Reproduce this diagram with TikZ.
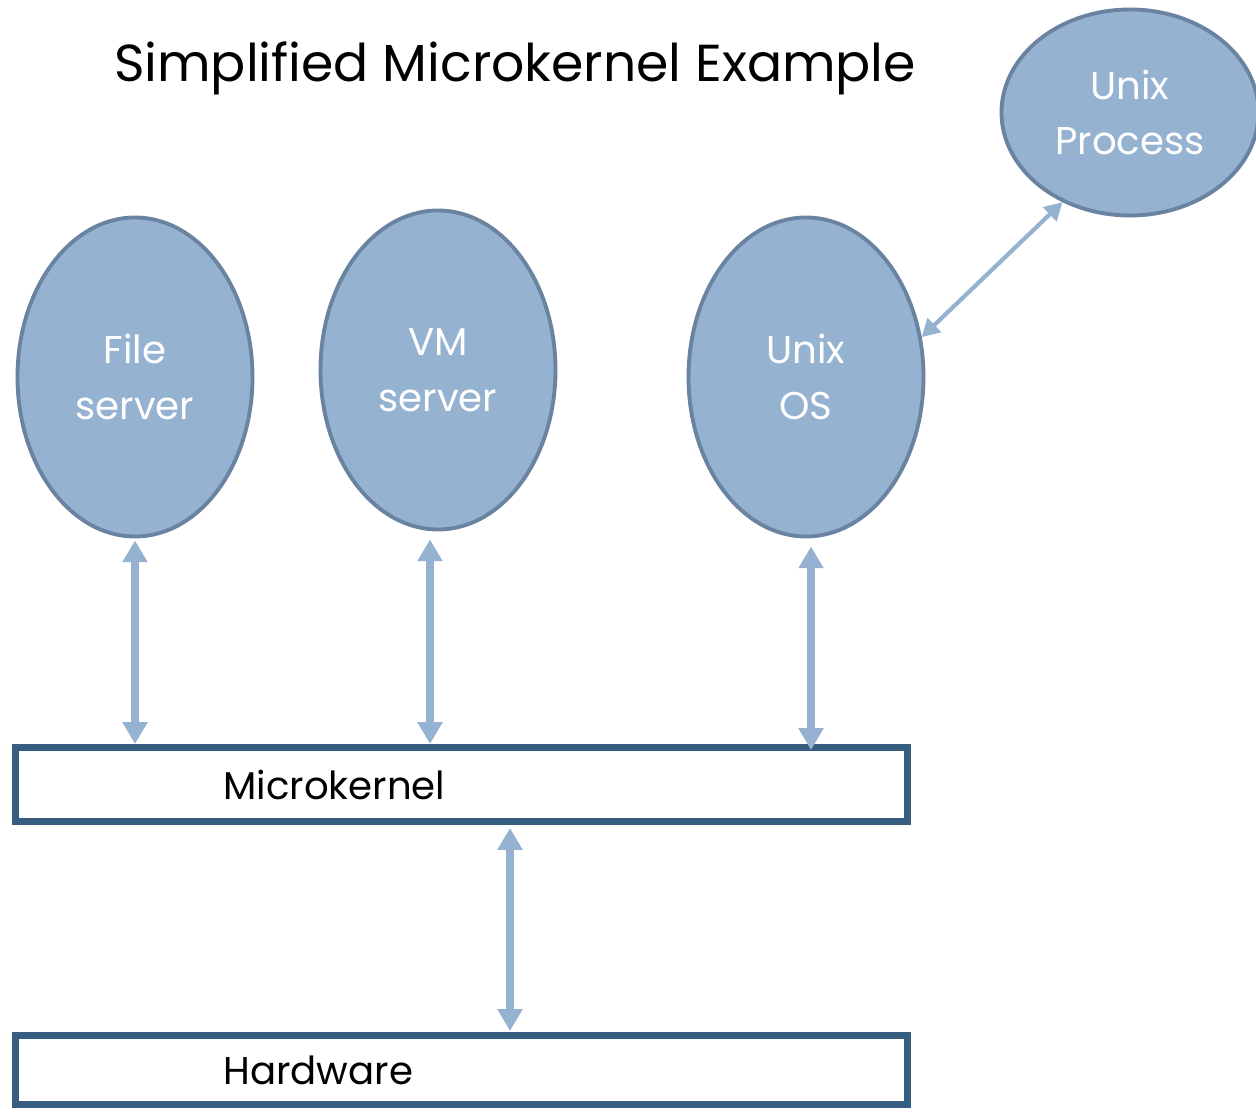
\documentclass[tikz,border=0pt]{standalone}
\usepackage{fontspec}
\setmainfont{Poppins}
\usepackage{tikz}
\usetikzlibrary{shapes.geometric,arrows.meta}
\definecolor{procfill}{HTML}{95B3D1}
\definecolor{procedge}{HTML}{6A83A0}
\definecolor{boxedge}{HTML}{375E80}

\begin{document}
\begin{tikzpicture}[
  proc/.style={ellipse,draw=procedge,fill=procfill,line width=1.1pt,inner sep=0pt,
    text=white,align=center,font=\fontsize{11}{15.9}\selectfont},
  layer/.style={draw=boxedge,line width=2pt,minimum width=8.92cm,inner ysep=0pt,
    inner xsep=2.08cm,text width=4.76cm,align=left,font=\fontsize{11}{15.9}\selectfont},
  link/.style={draw=procfill,line width=2.3pt,{Triangle[width=6.8pt,length=6.2pt]}-{Triangle[width=6.8pt,length=6.2pt]}},
  thinlink/.style={draw=procfill,line width=1.2pt,{Triangle[width=5.4pt,length=5pt]}-{Triangle[width=5.4pt,length=5pt]}}]
  \useasboundingbox (0,0) rectangle (12.56,11.11);
  \node[anchor=base,font=\fontsize{14.8}{18}\selectfont] (title) at (5.15,10.29) {Simplified Microkernel Example};
  \node[proc,minimum width=2.35cm,minimum height=3.19cm] (fs) at (1.35,7.34) {File\\server};
  \node[proc,minimum width=2.35cm,minimum height=3.19cm] (vm) at (4.38,7.41) {VM\\server};
  \node[proc,minimum width=2.35cm,minimum height=3.19cm] (uos) at (8.06,7.34) {Unix\\OS};
  \node[proc,minimum width=2.57cm,minimum height=2.06cm] (up) at (11.30,9.985) {Unix\\Process};
  \node[layer,minimum height=0.74cm] (mk) at (4.615,3.265) {Microkernel};
  \node[layer,minimum height=0.69cm] (hw) at (4.615,0.41) {Hardware};
  \draw[link] ([yshift=-0.02cm]fs.south) -- (fs.south |- mk.north);
  \draw[link] ([xshift=-0.08cm,yshift=-0.08cm]vm.south) -- ([xshift=-0.08cm]vm.south |- mk.north);
  \draw[link] ([xshift=0.05cm,yshift=-0.08cm]uos.south) -- ([xshift=0.05cm,yshift=-0.06cm]uos.south |- mk.north);
  \draw[link] ([xshift=0.485cm,yshift=-0.03cm]mk.south) -- ([xshift=0.485cm,yshift=0.01cm]hw.north);
  \draw[thinlink] (uos.19) -- (up.233);
\end{tikzpicture}
\end{document}
